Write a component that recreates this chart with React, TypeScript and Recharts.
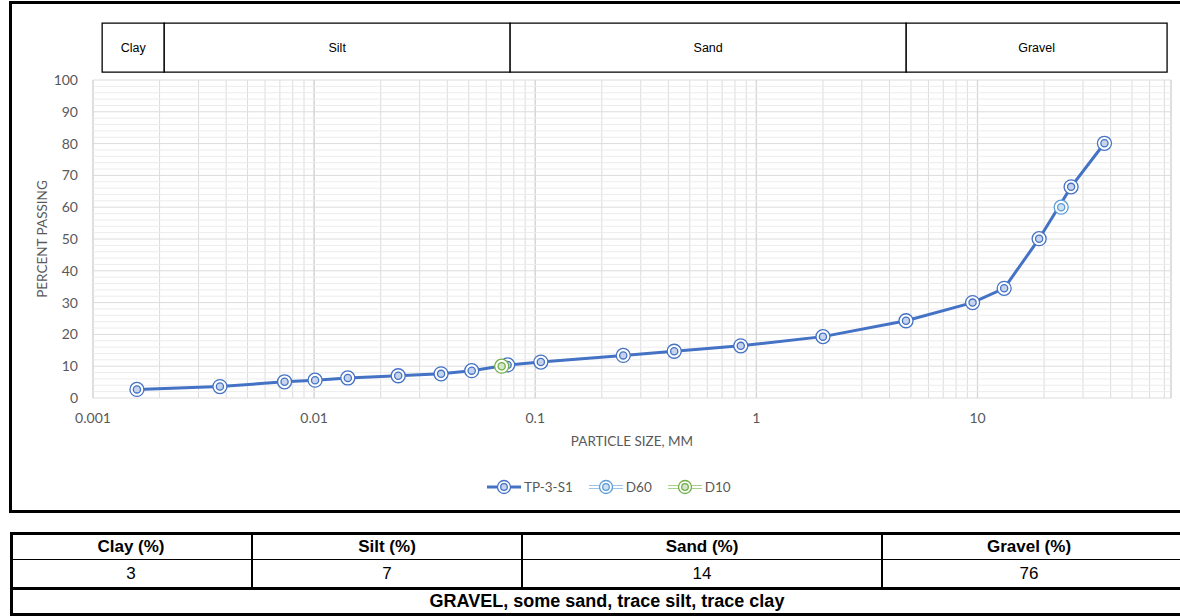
import React from 'react';
import { LineChart, Line, XAxis, YAxis, CartesianGrid, ReferenceArea, ReferenceLine, Legend } from 'recharts';

// Gradation data (particle size in mm, percent passing)
const sizes = [0.00158, 0.00375, 0.00735, 0.0101, 0.0142, 0.024, 0.0375, 0.0516, 0.075, 0.106, 0.25, 0.425, 0.85, 2.0, 4.75, 9.5, 13.2, 19.0, 26.5, 37.5];
const passing = [2.7, 3.6, 5.1, 5.6, 6.3, 7.0, 7.6, 8.6, 10.4, 11.3, 13.4, 14.7, 16.4, 19.3, 24.3, 30.0, 34.5, 50.1, 66.4, 80.1];

const d60Size = [23.9];
const d60Pass = [60];
const d10Size = [0.0705];
const d10Pass = [10];

const seriesNames = ['TP-3-S1', 'D60', 'D10'];

const xGridTicks = [
  0.001, 0.002, 0.003, 0.004, 0.005, 0.006, 0.007, 0.008, 0.009,
  0.01, 0.02, 0.03, 0.04, 0.05, 0.06, 0.07, 0.08, 0.09,
  0.1, 0.2, 0.3, 0.4, 0.5, 0.6, 0.7, 0.8, 0.9,
  1, 2, 3, 4, 5, 6, 7, 8, 9,
  10, 20, 30, 40, 50, 60, 70, 75,
];
const xLabelTicks = [0.001, 0.01, 0.1, 1, 10];
const yMajorTicks = [0, 10, 20, 30, 40, 50, 60, 70, 80, 90, 100];
const yMinorTicks = [
  2, 4, 6, 8, 12, 14, 16, 18, 22, 24, 26, 28, 32, 34, 36, 38,
  42, 44, 46, 48, 52, 54, 56, 58, 62, 64, 66, 68, 72, 74, 76, 78,
  82, 84, 86, 88, 92, 94, 96, 98,
];

const bandNames = ['Clay', 'Silt', 'Sand', 'Gravel'];
const bandEdges = [0.0011, 0.0021, 0.077, 4.76, 72];
const bandBottom = 102.5;
const bandTop = 117.9;

const tableHeaders = ['Clay (%)', 'Silt (%)', 'Sand (%)', 'Gravel (%)'];
const tableValues = ['3', '7', '14', '76'];
const description = 'GRAVEL, some sand, trace silt, trace clay';

const mainData = sizes.map((s, i) => ({ size: s, pass: passing[i] }));
const d60Data = d60Size.map((s, i) => ({ size: s, pass: d60Pass[i] }));
const d10Data = d10Size.map((s, i) => ({ size: s, pass: d10Pass[i] }));

const MAIN = '#4472C4';
const D60C = '#5B9BD5';
const D10C = '#70AD47';
const TXT = '#595959';
const FONT = 'Lato, "Open Sans", sans-serif';

const makeDot = (color: string, tag: string) => (props: any) => {
  const { cx, cy, index } = props;
  if (cx == null || cy == null) return <g key={`${tag}-${index}`} />;
  return (
    <g key={`${tag}-${index}`}>
      <circle cx={cx} cy={cy} r={7} fill="#fff" stroke={color} strokeWidth={1.3} />
      <circle cx={cx} cy={cy} r={3.6} fill={color} fillOpacity={0.3} stroke={color} strokeWidth={1.3} />
    </g>
  );
};

const LegendIcon = ({ color, lineColor, thick }: { color: string; lineColor: string; thick: boolean }) => (
  <svg width={34} height={16} style={{ display: 'block' }}>
    {thick ? (
      <line x1={0} y1={8} x2={34} y2={8} stroke={lineColor} strokeWidth={3} />
    ) : (
      <g>
        <line x1={0} y1={6.5} x2={34} y2={6.5} stroke={lineColor} strokeWidth={1} />
        <line x1={0} y1={9.5} x2={34} y2={9.5} stroke={lineColor} strokeWidth={1} />
      </g>
    )}
    <circle cx={17} cy={8} r={6.5} fill="#fff" stroke={color} strokeWidth={1.3} />
    <circle cx={17} cy={8} r={3.3} fill={color} fillOpacity={0.3} stroke={color} strokeWidth={1.3} />
  </svg>
);

const legendColors = [
  { color: MAIN, line: MAIN, thick: true },
  { color: D60C, line: '#9DC3E6', thick: false },
  { color: D10C, line: '#A9D18E', thick: false },
];

const CustomLegend = () => (
  <div style={{ display: 'flex', alignItems: 'center', fontFamily: FONT, fontSize: 13.5, color: TXT }}>
    {seriesNames.map((n, i) => (
      <div key={n} style={{ display: 'flex', alignItems: 'center', marginRight: 16 }}>
        <LegendIcon color={legendColors[i].color} lineColor={legendColors[i].line} thick={legendColors[i].thick} />
        <span style={{ marginLeft: 3 }}>{n}</span>
      </div>
    ))}
  </div>
);

const tickStyle = { fill: TXT, fontSize: 14, fontFamily: FONT };

const cellFont = { fontFamily: '"Liberation Sans", Arial, sans-serif', fontSize: 17, color: '#000' };

export default function App() {
  const colEdges = [10, 252, 522, 882, 1180];
  return (
    <div style={{ position: 'absolute', left: 0, top: 0, width: 1180, height: 616, overflow: 'hidden', background: '#fff' }}>
      {/* chart frame */}
      <div
        style={{
          position: 'absolute', left: 9, top: 1, width: 1190, height: 512,
          border: '3px solid #000', boxSizing: 'border-box',
        }}
      />
      <div style={{ position: 'absolute', left: 0, top: 0 }}>
        <LineChart
          width={1180}
          height={516}
          margin={{ top: 80, right: 9, left: 33, bottom: 68 }}
          style={{ fontFamily: FONT }}
        >
          <XAxis
            xAxisId="dec"
            orientation="top"
            dataKey="size"
            type="number"
            scale="log"
            domain={[0.001, 75]}
            allowDataOverflow
            ticks={xLabelTicks}
            hide
          />
          <XAxis
            xAxisId="main"
            dataKey="size"
            type="number"
            scale="log"
            domain={[0.001, 75]}
            allowDataOverflow
            ticks={xGridTicks}
            interval={0}
            tickFormatter={(v: number) => (xLabelTicks.includes(v) ? String(v) : '')}
            axisLine={false}
            tickLine={false}
            tickSize={6}
            tickMargin={9}
            height={50}
            tick={tickStyle}
            label={{ value: 'PARTICLE SIZE, MM', position: 'insideBottom', offset: 2, fill: TXT, fontSize: 13.5 }}
          />
          <YAxis
            yAxisId="main"
            type="number"
            domain={[0, 100]}
            ticks={yMajorTicks}
            interval={0}
            axisLine={false}
            tickLine={false}
            tickSize={6}
            tickMargin={9}
            width={60}
            tick={tickStyle}
            label={{ value: 'PERCENT PASSING', angle: -90, position: 'insideLeft', offset: 9, fill: TXT, fontSize: 13.5, style: { textAnchor: 'middle' } }}
          />
          {yMinorTicks.map((v) => (
            <ReferenceLine key={`ym-${v}`} xAxisId="main" yAxisId="main" y={v} stroke="#ececec" strokeWidth={1} />
          ))}
          <CartesianGrid xAxisId="main" yAxisId="main" stroke="#dcdcdc" strokeWidth={1} />
          <CartesianGrid xAxisId="dec" yAxisId="main" horizontal={false} stroke="#d6d6d6" strokeWidth={1.3} />
          {bandNames.map((n, i) => (
            <ReferenceArea
              key={n}
              xAxisId="main"
              yAxisId="main"
              x1={bandEdges[i]}
              x2={bandEdges[i + 1]}
              y1={bandBottom}
              y2={bandTop}
              ifOverflow="visible"
              fill="#fff"
              fillOpacity={1}
              stroke="#000"
              strokeWidth={1.3}
              label={{ value: n, position: 'center', fill: '#000', fontSize: 12.5, fontFamily: '"Liberation Sans", Arial, sans-serif' }}
            />
          ))}
          <Line
            xAxisId="main"
            yAxisId="main"
            data={mainData}
            dataKey="pass"
            name={seriesNames[0]}
            stroke={MAIN}
            strokeWidth={3}
            type="linear"
            dot={makeDot(MAIN, 'm')}
            activeDot={false}
            isAnimationActive={false}
          />
          <Line
            xAxisId="main"
            yAxisId="main"
            data={d60Data}
            dataKey="pass"
            name={seriesNames[1]}
            stroke={D60C}
            strokeWidth={1}
            type="linear"
            dot={makeDot(D60C, 'a')}
            activeDot={false}
            isAnimationActive={false}
          />
          <Line
            xAxisId="main"
            yAxisId="main"
            data={d10Data}
            dataKey="pass"
            name={seriesNames[2]}
            stroke={D10C}
            strokeWidth={1}
            type="linear"
            dot={makeDot(D10C, 'b')}
            activeDot={false}
            isAnimationActive={false}
          />
          <Legend
            layout="horizontal"
            verticalAlign="middle"
            align="center"
            content={() => <CustomLegend />}
            wrapperStyle={{ position: 'absolute', top: 479, left: 487, width: 400 }}
          />
        </LineChart>
      </div>

      {/* summary table */}
      <div style={{ position: 'absolute', left: 10, top: 532, width: 1180, height: 84, border: '3px solid #000', borderRight: 'none', boxSizing: 'border-box' }} />
      <div style={{ position: 'absolute', left: 10, top: 558.5, width: 1170, height: 1.5, background: '#000' }} />
      <div style={{ position: 'absolute', left: 10, top: 586.5, width: 1170, height: 3, background: '#000' }} />
      {colEdges.slice(1, 4).map((x) => (
        <div key={x} style={{ position: 'absolute', left: x - 1, top: 534, width: 1.6, height: 54, background: '#000' }} />
      ))}
      {tableHeaders.map((h, i) => (
        <div
          key={h}
          style={{
            ...cellFont, fontWeight: 'bold', position: 'absolute', left: colEdges[i], width: colEdges[i + 1] - colEdges[i] - (i === 3 ? 4 : 0),
            top: 535, height: 24, lineHeight: '24px', textAlign: 'center',
          }}
        >
          {h}
        </div>
      ))}
      {tableValues.map((v, i) => (
        <div
          key={tableHeaders[i] + v}
          style={{
            ...cellFont, position: 'absolute', left: colEdges[i], width: colEdges[i + 1] - colEdges[i] - (i === 3 ? 4 : 0),
            top: 560, height: 27, lineHeight: '27px', textAlign: 'center',
          }}
        >
          {v}
        </div>
      ))}
      <div
        style={{
          ...cellFont, fontWeight: 'bold', fontSize: 18, position: 'absolute', left: 10, width: 1194,
          top: 589, height: 24, lineHeight: '24px', textAlign: 'center',
        }}
      >
        {description}
      </div>
    </div>
  );
}
